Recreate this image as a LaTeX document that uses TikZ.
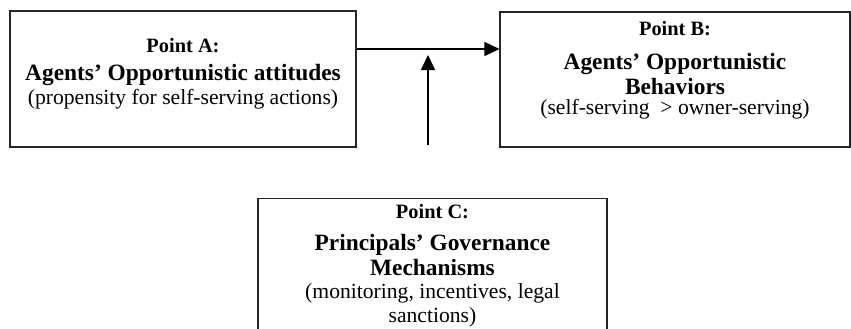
\documentclass[tikz,border=0pt]{standalone}
\usepackage{fontspec}
\setmainfont{Liberation Serif}
\usetikzlibrary{arrows.meta,positioning}

% three text sizes used in every box
\newcommand{\pointname}[1]{{\fontsize{11.6}{12}\selectfont\bfseries #1}}
\newcommand{\pointtitle}[1]{{\fontsize{13.3}{12}\selectfont\bfseries #1}}
\newcommand{\pointnote}[1]{{\fontsize{12.3}{12}\selectfont #1}}
\newcommand{\pointfont}{\fontsize{12}{11.4pt}\selectfont\setlength{\lineskiplimit}{-20pt}}

\tikzset{
    pointbox/.style={draw=black!85,line width=0.6pt,inner sep=0pt},
    pointtext/.style={anchor=north,align=center,inner sep=0pt,font=\pointfont},
    link/.style={line width=0.6pt,-{Triangle[length=0.3cm,width=0.28cm]}}
}

\begin{document}
\begin{tikzpicture}
    \useasboundingbox (0,0) rectangle (17.02,-6.58);
    \clip (0,0) rectangle (17.02,-6.58);
    %draw boxes
    \node [pointbox,minimum width=6.92cm,minimum height=2.72cm] (a) at (3.66,-1.58) {};
    \node [pointbox,minimum width=7.0cm,minimum height=2.70cm] (b) at (13.5,-1.59) {};
    \node [pointbox,minimum width=6.98cm,minimum height=3.5cm,anchor=north] (c) at (8.65,-3.96) {};
    %box texts
    \node [pointtext] (a-text) at ([yshift=-0.56cm]a.north)
        {\pointname{Point A:}\\[4.5pt]
         \pointtitle{Agents’ Opportunistic attitudes}\\[2.2pt]
         \pointnote{(propensity for self-serving actions)}};
    \node [pointtext] (b-text) at ([yshift=-0.2cm]b.north)
        {\pointname{Point B:}\\[7.4pt]
         \pointtitle{Agents’ Opportunistic}\\[2.9pt]
         \pointtitle{Behaviors}\\
         \pointnote{(self-serving \ > owner-serving)}};
    \node [pointtext] (c-text) at ([yshift=-0.12cm]c.north)
        {\pointname{Point C:}\\[6.8pt]
         \pointtitle{Principals’ Governance}\\[2.8pt]
         \pointtitle{Mechanisms}\\[1.7pt]
         \pointnote{(monitoring, incentives, legal}\\[2.3pt]
         \pointnote{sanctions)}};
    %draw arrows
    \coordinate (join) at (8.56,-0.98);
    \coordinate (lever) at (8.56,-1.10);
    \coordinate (gov) at (8.56,-2.90);
    \draw [link] (a.east |- join) -- (b.west |- join);
    \draw [link] (gov) -- (lever);
\end{tikzpicture}
\end{document}
